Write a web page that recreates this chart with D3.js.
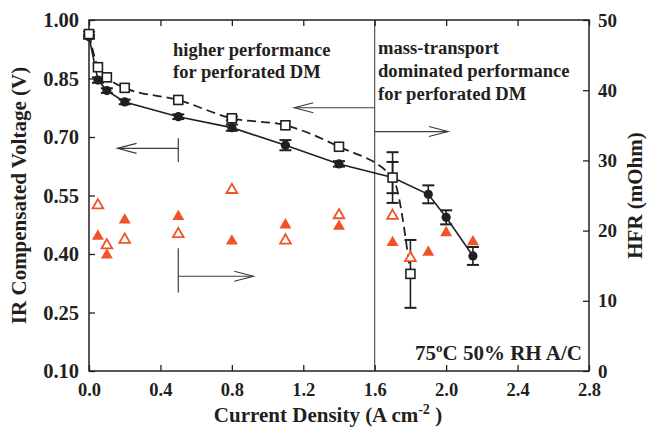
<!DOCTYPE html>
<html>
<head>
<meta charset="utf-8">
<script src="https://cdn.jsdelivr.net/npm/d3@7"></script>
<style>
  body { margin: 0; background: #fff; }
  text { font-family: "Liberation Serif", "Times New Roman", serif; font-weight: bold; fill: #231f20; }
</style>
</head>
<body>
<script>
// current density (A/cm2) and IR-compensated voltage, standard DM (filled circles)
var current = [0, 0.05, 0.1, 0.2, 0.5, 0.8, 1.1, 1.4, 1.7, 1.9, 2.0, 2.15];
var voltage = [0.957, 0.846, 0.819, 0.790, 0.752, 0.724, 0.679, 0.631, 0.596, 0.553, 0.494, 0.395];
var voltageErr = [0.005, 0.007, 0.006, 0.006, 0.006, 0.008, 0.013, 0.007, 0.040, 0.023, 0.018, 0.023];

// perforated DM (open squares, dashed)
var currentPerf = [0, 0.05, 0.1, 0.2, 0.5, 0.8, 1.1, 1.4, 1.7, 1.8];
var voltagePerf = [0.964, 0.879, 0.853, 0.826, 0.795, 0.748, 0.730, 0.675, 0.596, 0.349];
var voltagePerfErr = [0.006, 0, 0, 0, 0, 0.005, 0, 0, 0.065, 0.087];

// HFR (mOhm)
var hfrCurrent = [0.05, 0.1, 0.2, 0.5, 0.8, 1.1, 1.4, 1.7, 1.9, 2.0, 2.15];
var hfr = [19.2, 16.5, 21.5, 22.0, 18.5, 20.8, 20.6, 18.3, 16.9, 19.7, 18.4];
var hfrCurrentPerf = [0.05, 0.1, 0.2, 0.5, 0.8, 1.1, 1.4, 1.7, 1.8];
var hfrPerf = [23.6, 17.9, 18.7, 19.5, 25.8, 18.6, 22.2, 22.1, 16.1];

var xTicks = [0, 0.4, 0.8, 1.2, 1.6, 2.0, 2.4, 2.8];
var yTicks = [0.10, 0.25, 0.40, 0.55, 0.70, 0.85, 1.00];
var hfrTicks = [0, 10, 20, 30, 40, 50];

var W = 652, H = 433;
var pL = 89, pR = 589, pT = 20, pB = 371;
var orange = "#f0522a";

var svg = d3.select("body").append("svg")
    .attr("width", W).attr("height", H);

var x = d3.scaleLinear().domain([0, 2.8]).range([pL, pR]);
var y = d3.scaleLinear().domain([0.1, 1.0]).range([pB, pT]);
var y2 = d3.scaleLinear().domain([0, 50]).range([pB, pT]);

// axes, ticks pointing inwards
function styleAxis(size) {
  return function(g) {
    g.select(".domain").remove();
    g.selectAll("line").attr("stroke", "#231f20").attr("stroke-width", 1.3);
    g.selectAll("text").attr("font-size", size).attr("fill", "#231f20")
      .attr("font-family", "Liberation Serif, serif").attr("font-weight", "bold");
  };
}
svg.append("g").attr("transform", "translate(0," + pB + ")")
  .call(d3.axisBottom(x).tickValues(xTicks).tickFormat(d3.format(".1f")).tickSizeInner(-6).tickSizeOuter(0).tickPadding(12))
  .call(styleAxis(18.5));
svg.append("g").attr("transform", "translate(0," + pT + ")")
  .call(d3.axisTop(x).tickValues(xTicks).tickFormat("").tickSizeInner(-6).tickSizeOuter(0))
  .call(styleAxis(18.5));
svg.append("g").attr("transform", "translate(" + pL + ",0)")
  .call(d3.axisLeft(y).tickValues(yTicks).tickFormat(d3.format(".2f")).tickSizeInner(-6).tickSizeOuter(0).tickPadding(10))
  .call(styleAxis(20.5));
svg.append("g").attr("transform", "translate(" + pR + ",0)")
  .call(d3.axisRight(y2).tickValues(hfrTicks).tickFormat(d3.format("d")).tickSizeInner(-6).tickSizeOuter(0).tickPadding(9))
  .call(styleAxis(19));

svg.append("rect")
  .attr("x", pL).attr("y", pT).attr("width", pR - pL).attr("height", pB - pT)
  .attr("fill", "none").attr("stroke", "#231f20").attr("stroke-width", 1.5);

// axis titles
svg.append("text")
  .attr("transform", "translate(26," + (pT + pB) / 2 + ") rotate(-90)")
  .attr("text-anchor", "middle").attr("font-size", 21)
  .text("IR Compensated Voltage (V)");
svg.append("text")
  .attr("transform", "translate(642," + (pT + pB) / 2 + ") rotate(-90)")
  .attr("text-anchor", "middle").attr("font-size", 21)
  .text("HFR (mOhm)");
var xt = svg.append("text")
  .attr("x", (pL + pR) / 2 - 11).attr("y", 422)
  .attr("text-anchor", "middle").attr("font-size", 21);
xt.append("tspan").text("Current Density (A cm");
xt.append("tspan").attr("dy", -8).attr("font-size", 14).text("-2");
xt.append("tspan").attr("dy", 8).text(" )");

// region divider and arrows
var ann = svg.append("g").attr("stroke", "#3d3d3d").attr("stroke-width", 1.2).attr("fill", "none");
ann.append("line")
  .attr("x1", x(1.6)).attr("x2", x(1.6)).attr("y1", pT).attr("y2", pB)
  .attr("stroke", "#333").attr("stroke-width", 1);

function arrow(x1, x2, yy) {
  var dir = x2 > x1 ? 1 : -1;
  ann.append("line").attr("x1", x1).attr("x2", x2).attr("y1", yy).attr("y2", yy);
  ann.append("polyline")
    .attr("points", [[x2 - dir * 19, yy - 5], [x2, yy], [x2 - dir * 19, yy + 5]].join(" "));
}
arrow(x(1.6), x(1.15), y(0.775));
arrow(x(1.6), x(2.01), y(0.714));
arrow(x(0.5), x(0.16), y(0.671));
ann.append("line").attr("x1", x(0.5)).attr("x2", x(0.5)).attr("y1", y(0.697)).attr("y2", y(0.636));
arrow(x(0.5), x(0.92), y2(13.5));
ann.append("line").attr("x1", x(0.5)).attr("x2", x(0.5)).attr("y1", y2(17.5)).attr("y2", y2(11.2));

// annotation text
function lines(tx, ty, arr, size, gap) {
  var t = svg.append("text").attr("x", tx).attr("y", ty).attr("font-size", size);
  arr.forEach(function(s, i) {
    t.append("tspan").attr("x", tx).attr("dy", i ? gap : 0).text(s);
  });
}
lines(173, 56, ["higher performance", "for perforated DM"], 18.5, 22);
lines(378, 54, ["mass-transport", "dominated performance", "for perforated DM"], 18.6, 23);
var cond = svg.append("text").attr("x", 415).attr("y", 360).attr("font-size", 21);
cond.append("tspan").text("75");
cond.append("tspan").attr("dy", -8).attr("font-size", 13).text("o");
cond.append("tspan").attr("dy", 8).text("C 50% RH A/C");

// voltage curves
var solid = current.map(function(c, i) { return {x: c, y: voltage[i], e: voltageErr[i]}; });
var perf = currentPerf.map(function(c, i) { return {x: c, y: voltagePerf[i], e: voltagePerfErr[i]}; });

var line = d3.line().x(function(d) { return x(d.x); }).y(function(d) { return y(d.y); });
svg.append("path").datum(solid).attr("d", line)
  .attr("fill", "none").attr("stroke", "#231f20").attr("stroke-width", 1.6);
svg.append("path").datum(perf).attr("d", line.curve(d3.curveMonotoneX))
  .attr("fill", "none").attr("stroke", "#231f20").attr("stroke-width", 1.8).attr("stroke-dasharray", "9,5");

function errorBars(data) {
  var g = svg.append("g").attr("stroke", "#231f20").attr("stroke-width", 1.6);
  data.filter(function(d) { return d.e > 0; }).forEach(function(d) {
    var cx = x(d.x);
    g.append("line").attr("x1", cx).attr("x2", cx).attr("y1", y(d.y - d.e)).attr("y2", y(d.y + d.e));
    [d.y - d.e, d.y + d.e].forEach(function(v) {
      g.append("line").attr("x1", cx - 6).attr("x2", cx + 6).attr("y1", y(v)).attr("y2", y(v)).attr("stroke-width", 2);
    });
  });
}
errorBars(solid);
errorBars(perf);

svg.append("g").selectAll("circle").data(solid).enter().append("circle")
  .attr("cx", function(d) { return x(d.x); })
  .attr("cy", function(d) { return y(d.y); })
  .attr("r", 4.6).attr("fill", "#231f20");

svg.append("g").selectAll("rect").data(perf).enter().append("rect")
  .attr("x", function(d) { return x(d.x) - 4.5; })
  .attr("y", function(d) { return y(d.y) - 4.5; })
  .attr("width", 9).attr("height", 9)
  .attr("fill", "#fff").attr("stroke", "#231f20").attr("stroke-width", 1.6);

// HFR triangles
var tri = d3.symbol().type(d3.symbolTriangle).size(62);
svg.append("g").selectAll("path").data(hfrCurrent).enter().append("path")
  .attr("d", tri)
  .attr("transform", function(d, i) { return "translate(" + x(d) + "," + y2(hfr[i]) + ")"; })
  .attr("fill", orange);
svg.append("g").selectAll("path").data(hfrCurrentPerf).enter().append("path")
  .attr("d", d3.symbol().type(d3.symbolTriangle).size(50))
  .attr("transform", function(d, i) { return "translate(" + x(d) + "," + y2(hfrPerf[i]) + ")"; })
  .attr("fill", "#fff").attr("stroke", orange).attr("stroke-width", 1.8);
</script>
</body>
</html>
